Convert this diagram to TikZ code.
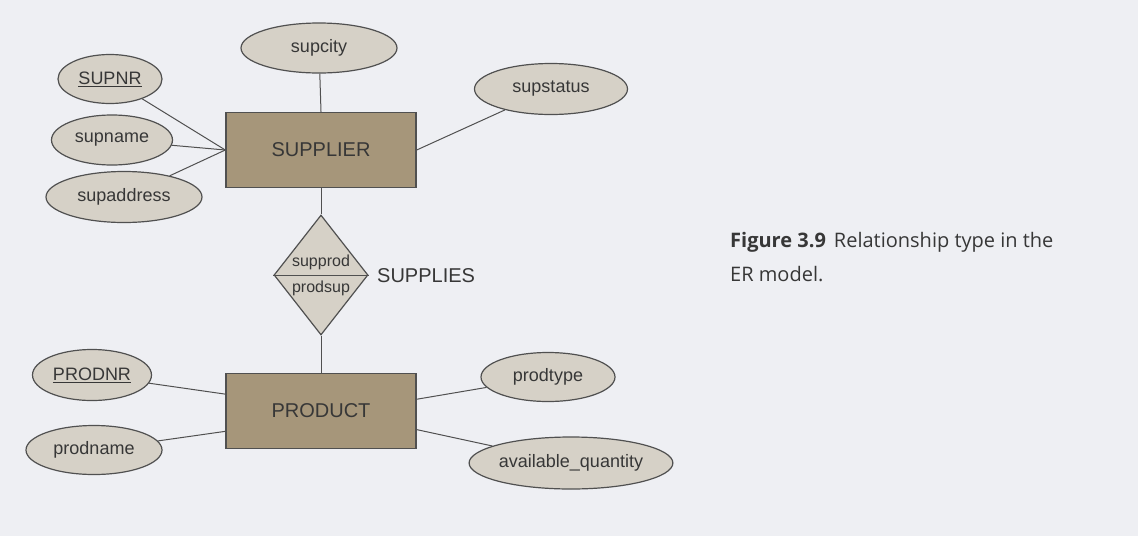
\documentclass[tikz,border=0pt]{standalone}
\usepackage{fontspec}
\setmainfont{Liberation Sans}
\newfontfamily\capfont{Open Sans}
\usetikzlibrary{shapes.geometric}
\definecolor{bgc}{RGB}{238,239,243}
\definecolor{ellfill}{RGB}{214,209,199}
\definecolor{entfill}{RGB}{166,150,122}
\definecolor{edge}{RGB}{80,80,80}
\definecolor{txt}{RGB}{55,55,55}
\tikzset{
  attr/.style={ellipse, draw=edge, fill=ellfill, line width=1.2pt, inner sep=0pt, text=txt, font=\fontsize{18}{20}\selectfont},
  entity/.style={rectangle, draw=edge, fill=entfill, line width=1.4pt, inner sep=0pt, minimum width=190pt, minimum height=75pt, text=txt, font=\fontsize{20}{22}\selectfont},
  rel/.style={diamond, draw=edge, fill=ellfill, line width=1.2pt, inner sep=0pt, minimum width=94pt, minimum height=120pt},
  conn/.style={draw=edge, line width=1pt},
  lbl/.style={inner sep=0pt, text=txt},
  caplbl/.style={inner sep=0pt, text=txt, anchor=base west, font=\capfont\fontsize{20}{24}\selectfont}
}
\begin{document}
\begin{tikzpicture}[x=1pt,y=-1pt]
\fill[bgc] (0,0) rectangle (1138,536);
\useasboundingbox (0,0) rectangle (1138,536);
% entities
\node[entity] (supplier) at (321,150) {SUPPLIER};
\node[entity] (product) at (321,411) {PRODUCT};
% attributes of SUPPLIER
\node[attr, minimum width=156pt, minimum height=50pt] (supcity) at (319,48) {supcity};
\node[attr, minimum width=104pt, minimum height=49pt] (supnr) at (110,79) {\underline{SUPNR}};
\node[attr, minimum width=121pt, minimum height=50pt] (supname) at (112,140) {supname};
\node[attr, minimum width=156pt, minimum height=51pt] (supaddress) at (124,197) {supaddress};
\node[attr, minimum width=153pt, minimum height=51pt] (supstatus) at (551,89) {supstatus};
% attributes of PRODUCT
\node[attr, minimum width=119pt, minimum height=51pt] (prodnr) at (92,375) {\underline{PRODNR}};
\node[attr, minimum width=136pt, minimum height=49pt] (prodname) at (94,450) {prodname};
\node[attr, minimum width=134pt, minimum height=49pt] (prodtype) at (548,377) {prodtype};
\node[attr, minimum width=202pt, minimum height=52pt] (availq) at (571,463) {available\_quantity};
% relationship
\node[rel] (supplies) at (321,275) {};
\draw[conn] (supplies.west) -- (supplies.east);
\node[lbl, font=\fontsize{16}{18}\selectfont, anchor=base] (supprod) at (321,266) {supprod};
\node[lbl, font=\fontsize{16}{18}\selectfont, anchor=base] (prodsup) at (321,292) {prodsup};
\node[lbl, font=\fontsize{20}{22}\selectfont, anchor=west] (supplieslbl) at (377,276) {SUPPLIES};
% connectors
\draw[conn] (supcity) -- (supplier.north);
\draw[conn] (supnr) -- (supplier.west);
\draw[conn] (supname) -- (supplier.west);
\draw[conn] (supaddress) -- (supplier.west);
\draw[conn] (supstatus) -- (supplier.east);
\draw[conn] (supplier.south) -- (supplies.north);
\draw[conn] (supplies.south) -- (product.north);
\draw[conn] (prodnr) -- (product.170);
\draw[conn] (prodname) -- (product.192);
\draw[conn] (prodtype) -- (product.7);
\draw[conn] (availq) -- (product.-11);
% caption
\node[caplbl] (caption1) at (730,247) {\textbf{Figure 3.9}\hspace{0.4em}Relationship type in the};
\node[caplbl] (caption2) at (730,281) {ER model.};
\end{tikzpicture}
\end{document}
